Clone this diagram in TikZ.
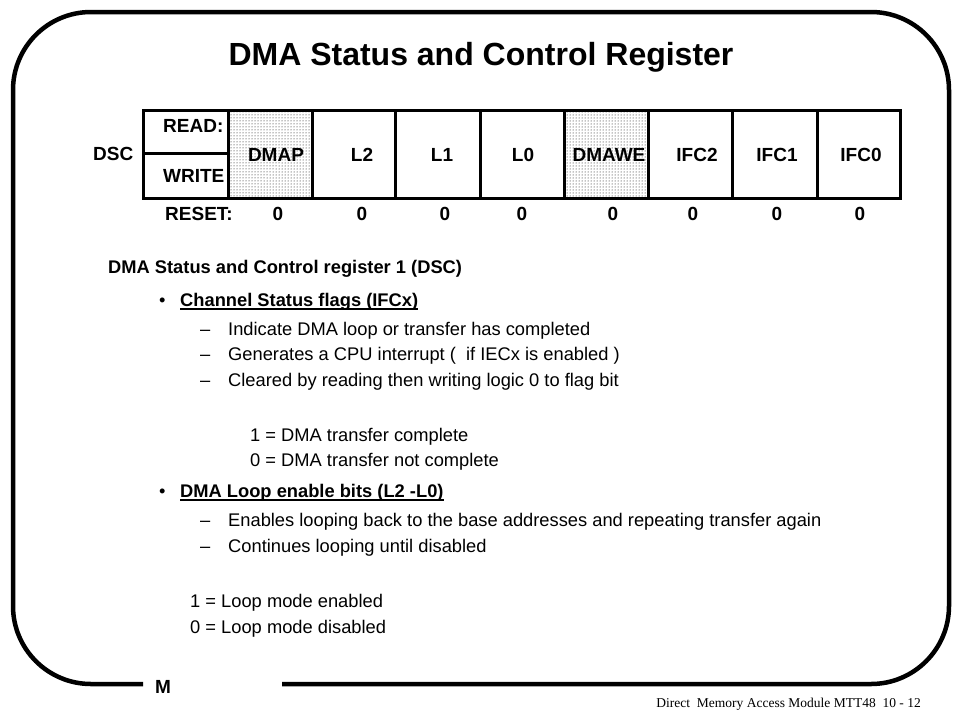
\documentclass[tikz,border=0pt]{standalone}
\usepackage{fontspec}
\setmainfont{Liberation Sans}
\newfontfamily\tmsfont{Liberation Serif}
\usetikzlibrary{patterns}
\begin{document}
\begin{tikzpicture}[x=1pt,y=-1pt,
  frame/.style={line width=4.5pt,rounded corners=78pt},
  cell/.style={line width=3pt},
  reglbl/.style={inner sep=0pt,anchor=base,font=\fontsize{19}{19}\bfseries},
  regleft/.style={inner sep=0pt,anchor=base west,font=\fontsize{19}{19}\bfseries},
  body/.style={inner sep=0pt,anchor=base west,font=\fontsize{18.3}{18.3}\selectfont},
  bodyb/.style={inner sep=0pt,anchor=base west,font=\fontsize{18.3}{18.3}\bfseries},
  uline/.style={line width=1.4pt}]
\useasboundingbox (0,0) rectangle (961,721);
\fill[white] (0,0) rectangle (961,721);

% frame with gap for M
\draw[frame] (143,684) -| (13,12) -| (949,684) -- (282,684);
\node[inner sep=0pt,anchor=base,font=\fontsize{19}{19}\bfseries] (m) at (163,693) {M};
\node[inner sep=0pt,anchor=base east,font=\fontsize{13.5}{13.5}\tmsfont] (foot) at (921,707.5) {Direct\ \ Memory Access Module MTT48\ \ 10 - 12};

% title
\node[inner sep=0pt,anchor=base,font=\fontsize{32}{32}\bfseries] (title) at (481,65) {DMA Status and Control Register};

% register
\fill[pattern=dots,pattern color=black] (228,110) rectangle (312,198);
\fill[pattern=dots,pattern color=black] (564,110) rectangle (648,198);
\draw[cell] (143,110) rectangle (900,198);
\draw[cell] (143,153) -- (228,153);
\foreach \x in {228,312,395,480,564,648,732,817} \draw[cell] (\x,110) -- (\x,198);

\node[regleft] (dsc) at (93,160) {DSC};
\node[regleft] (read) at (163,132) {READ:};
\node[regleft] (write) at (163,182) {WRITE};
\node[regleft] (reset) at (165,220) {RESET:};

\node[reglbl] (b7) at (276,161) {DMAP};
\node[reglbl] (b6) at (362,161) {L2};
\node[reglbl] (b5) at (442,161) {L1};
\node[reglbl] (b4) at (523,161) {L0};
\node[reglbl] (b3) at (609,161) {DMAWE};
\node[reglbl] (b2) at (697,161) {IFC2};
\node[reglbl] (b1) at (777,161) {IFC1};
\node[reglbl] (b0) at (861,161) {IFC0};

\node[reglbl] (r7) at (278,220) {0};
\node[reglbl] (r6) at (362,220) {0};
\node[reglbl] (r5) at (445,220) {0};
\node[reglbl] (r4) at (522,220) {0};
\node[reglbl] (r3) at (613,220) {0};
\node[reglbl] (r2) at (693,220) {0};
\node[reglbl] (r1) at (777,220) {0};
\node[reglbl] (r0) at (860,220) {0};

% body text
\node[bodyb] (head) at (108,273) {DMA Status and Control register 1 (DSC)};

\node[body] (bul1) at (159,306.5) {\textbullet};
\node[bodyb] (chs) at (180,306.5) {Channel Status flags (IFCx)};
\draw[uline] ([yshift=-2.5pt]chs.base west) -- ([yshift=-2.5pt]chs.base east);

\node[body] (d1) at (200,335.5) {–};
\node[body] (t1) at (228,335.5) {Indicate DMA loop or transfer has completed};
\node[body] (d2) at (200,360.5) {–};
\node[body] (t2) at (228,360.5) {Generates a CPU interrupt (\ \ if IECx is enabled )};
\node[body] (d3) at (200,386.5) {–};
\node[body] (t3) at (228,386.5) {Cleared by reading then writing logic 0 to flag bit};

\node[body] (v1) at (250,441.5) {1 = DMA transfer complete};
\node[body] (v0) at (250,466.5) {0 = DMA transfer not complete};

\node[body] (bul2) at (159,497.5) {\textbullet};
\node[bodyb] (loop) at (180,497.5) {DMA Loop enable bits (L2 -L0)};
\draw[uline] ([yshift=-2.5pt]loop.base west) -- ([yshift=-2.5pt]loop.base east);

\node[body] (d4) at (200,526.5) {–};
\node[body] (t4) at (228,526.5) {Enables looping back to the base addresses and repeating transfer again};
\node[body] (d5) at (200,552.5) {–};
\node[body] (t5) at (228,552.5) {Continues looping until disabled};

\node[body] (w1) at (190,607.5) {1 = Loop mode enabled};
\node[body] (w0) at (190,633.5) {0 = Loop mode disabled};
\end{tikzpicture}
\end{document}
